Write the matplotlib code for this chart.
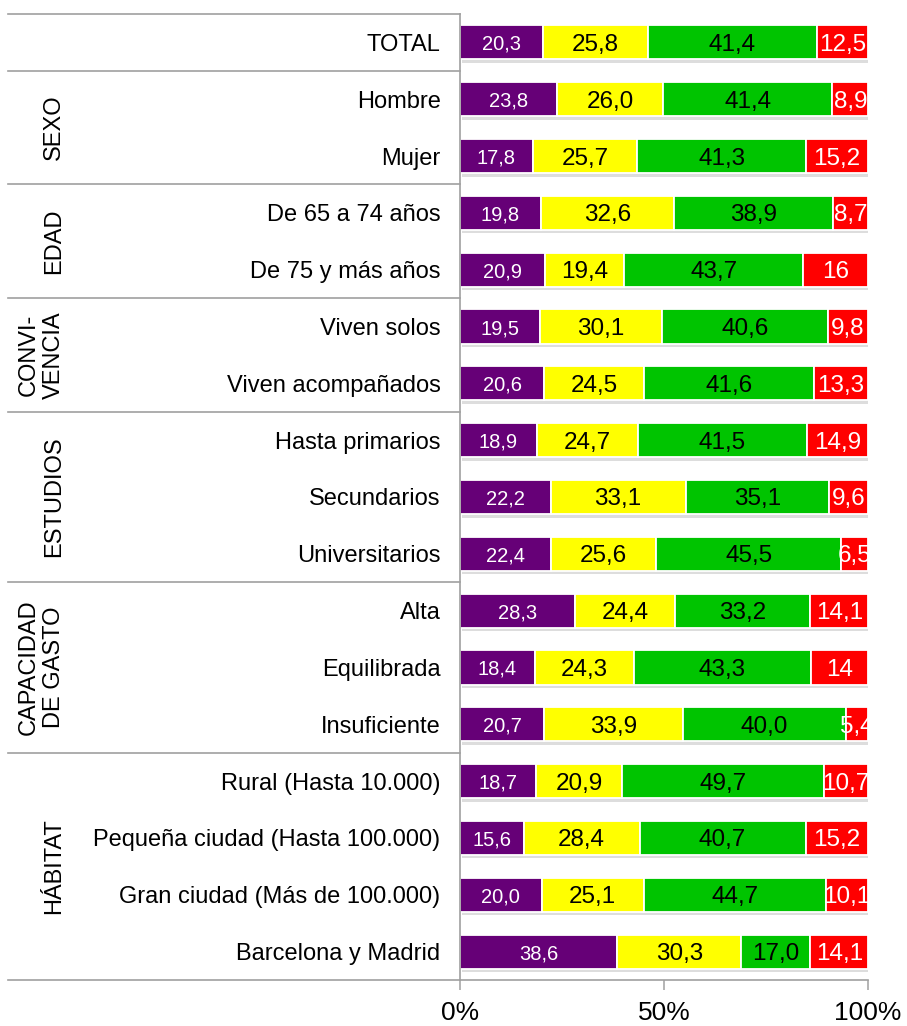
import matplotlib
matplotlib.use('Agg')
import matplotlib.pyplot as plt
import matplotlib.patheffects as pe
import matplotlib.transforms as mtransforms
import numpy as np

plt.rcParams['font.family'] = ['Liberation Sans', 'DejaVu Sans']

# %% Data
categories = ['TOTAL', 'Hombre', 'Mujer', 'De 65 a 74 años', 'De 75 y más años',
              'Viven solos', 'Viven acompañados', 'Hasta primarios', 'Secundarios',
              'Universitarios', 'Alta', 'Equilibrada', 'Insuficiente',
              'Rural (Hasta 10.000)', 'Pequeña ciudad (Hasta 100.000)',
              'Gran ciudad (Más de 100.000)', 'Barcelona y Madrid']
purple = [20.3, 23.8, 17.8, 19.8, 20.9, 19.5, 20.6, 18.9, 22.2, 22.4, 28.3, 18.4, 20.7, 18.7, 15.6, 20.0, 38.6]
yellow = [25.8, 26.0, 25.7, 32.6, 19.4, 30.1, 24.5, 24.7, 33.1, 25.6, 24.4, 24.3, 33.9, 20.9, 28.4, 25.1, 30.3]
green = [41.4, 41.4, 41.3, 38.9, 43.7, 40.6, 41.6, 41.5, 35.1, 45.5, 33.2, 43.3, 40.0, 49.7, 40.7, 44.7, 17.0]
red = [12.5, 8.9, 15.2, 8.7, 16, 9.8, 13.3, 14.9, 9.6, 6.5, 14.1, 14, 5.4, 10.7, 15.2, 10.1, 14.1]
red_labels = ['12,5', '8,9', '15,2', '8,7', '16', '9,8', '13,3', '14,9', '9,6', '6,5',
              '14,1', '14', '5,4', '10,7', '15,2', '10,1', '14,1']

groups = ['SEXO', 'EDAD', 'CONVI-\nVENCIA', 'ESTUDIOS', 'CAPACIDAD\nDE GASTO', 'HÁBITAT']
group_first = [1, 3, 5, 7, 10, 13]
group_last = [2, 4, 6, 9, 12, 16]

ticks = [0, 50, 100]
tick_labels = ['0%', '50%', '100%']

# %% Figure
W, H = 907, 1026
fig = plt.figure(figsize=(W / 100, H / 100), dpi=100)
ax = fig.add_axes([460 / W, 1 - 980 / H, 408 / W, 966 / H])

y = np.arange(len(categories))
shadow = [pe.SimplePatchShadow(offset=(1.5, -2.5), shadow_rgbFace='#909090', alpha=0.3), pe.Normal()]

series = [purple, yellow, green, red]
colors = ['#660077', '#ffff00', '#00c400', '#ff0000']
txt_colors = ['white', 'black', 'black', 'white']
sizes = [14.5, 17.5, 17.5, 17.5]

left = np.zeros(len(categories))
for k, vals in enumerate(series):
    vals = np.array(vals)
    bars = ax.barh(y, vals, left=left, height=0.6, color=colors[k],
                   edgecolor='white', linewidth=1.3)
    for b in bars:
        b.set_path_effects(shadow)
    if k == 3:
        labels = red_labels
    else:
        labels = [f"{v:.1f}".replace('.', ',') for v in vals]
    for yi, l, v, lab in zip(y, left, vals, labels):
        ax.text(l + v / 2, yi, lab, ha='center', va='center_baseline',
                color=txt_colors[k], fontsize=sizes[k])
    left += vals

ax.set_xlim(0, 100)
ax.set_ylim(16.5, -0.5)

for s in ['top', 'right']:
    ax.spines[s].set_visible(False)
for s in ['left', 'bottom']:
    ax.spines[s].set_color('#a0a0a0')
    ax.spines[s].set_linewidth(1.2)

ax.set_yticks(y)
ax.set_yticklabels(categories, fontsize=17)
ax.tick_params(axis='y', length=0, pad=14)
ax.set_xticks(ticks)
ax.set_xticklabels(tick_labels, fontsize=19)
ax.tick_params(axis='x', length=7, width=1.1, color='#a0a0a0', pad=8)

# separator lines to the left of the bars
x0 = (8 - 460) / 408
trans = mtransforms.blended_transform_factory(ax.transAxes, ax.transData)
seps = [-0.5] + [g + 0.5 for g in group_last[:-1]] + [group_first[0] - 0.5, 16.5]
for s in sorted(set(seps)):
    ax.plot([x0, 0], [s, s], color='#a0a0a0', lw=1.2, transform=trans, clip_on=False)

# group names
gx = (65 - 460) / 408
for name, a, b in zip(groups, group_first, group_last):
    ax.text(gx, (a + b) / 2, name, rotation=90, ha='right', va='center',
            multialignment='center', fontsize=17, transform=trans)

fig.savefig('out.png', dpi=100)
